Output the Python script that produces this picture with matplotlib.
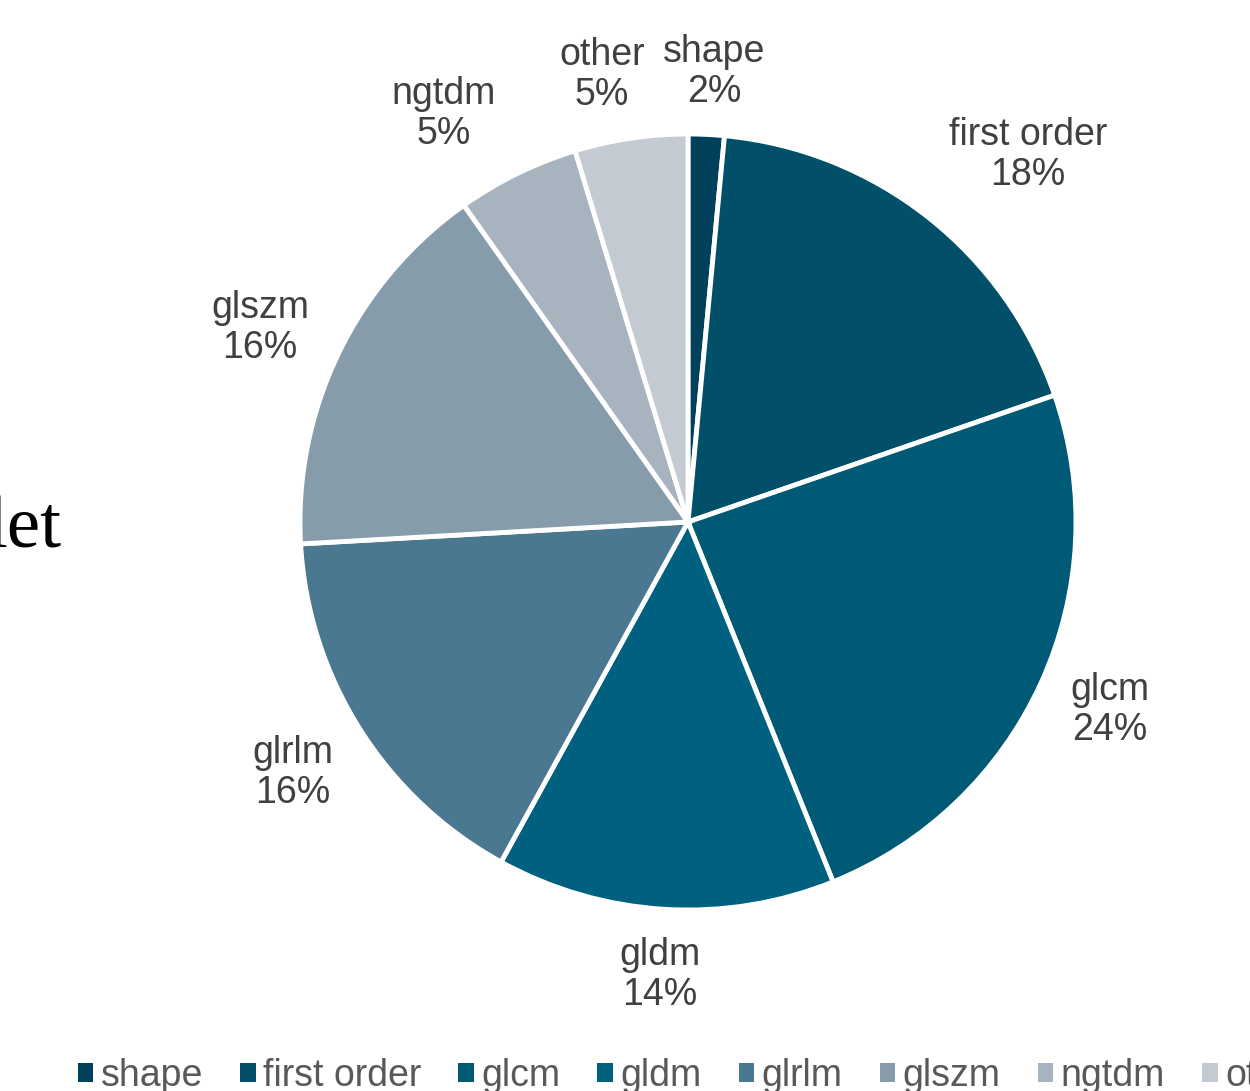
import matplotlib
matplotlib.use("Agg")
import matplotlib.pyplot as plt
from matplotlib.patches import Patch

# ---------- data ----------
categories = ["shape", "first order", "glcm", "gldm", "glrlm", "glszm", "ngtdm", "other"]
shares = [1.5, 18.2, 24.2, 14.1, 16.1, 16.1, 5.1, 4.7]
pct_labels = ["2%", "18%", "24%", "14%", "16%", "16%", "5%", "5%"]
colors = ["#00405A", "#014F69", "#005A75", "#00607F",
          "#4A7890", "#869CAB", "#A7B4BF", "#C3CAD2"]

W, H = 1250, 1091
fig = plt.figure(figsize=(W / 100, H / 100), dpi=100)
ax = fig.add_axes([0, 0, 1, 1])
ax.set_xlim(0, W)
ax.set_ylim(0, H)
ax.set_aspect("equal")
ax.axis("off")

cx, cy, r = 688, H - 522, 388
# data-label placement (Excel best-fit), as offsets from the pie centre in px
label_offsets = [(26, 450), (340, 367), (422, -188), (-28, -453),
                 (-395, -251), (-428, 194), (-244, 408), (-86, 447)]

wedges, _ = ax.pie(
    shares, colors=colors, startangle=90, counterclock=False,
    center=(cx, cy), radius=r,
    wedgeprops=dict(edgecolor="white", linewidth=3.5),
    frame=True,
)
for c, p, (dx, dy) in zip(categories, pct_labels, label_offsets):
    ax.text(cx + dx, cy + dy, f"{c}\n{p}", fontsize=27, color="#404040",
            family="Liberation Sans", linespacing=1.12,
            ha="center", va="center", multialignment="center")

# leftover text from the neighbouring panel
ax.text(62, H - 548, "let", fontsize=54, family="Liberation Serif",
        ha="right", va="baseline", color="black")

handles = [Patch(facecolor=c, edgecolor="none") for c in colors]
fig.legend(handles, categories, loc="center left", ncol=8,
           bbox_to_anchor=(0.062, 1 - 1076 / H), frameon=False,
           prop=dict(family="Liberation Sans", size=27),
           labelcolor="#595959", handlelength=0.42, handleheight=0.42,
           handletextpad=0.2, columnspacing=0.98, borderaxespad=0,
           borderpad=0)

fig.savefig("out.png", dpi=100)
